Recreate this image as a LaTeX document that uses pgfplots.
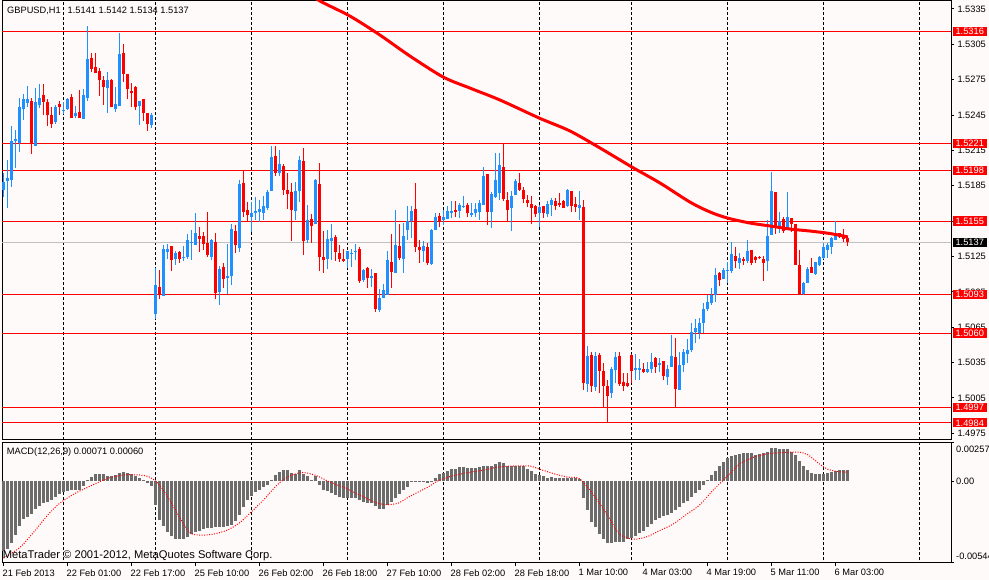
\documentclass[border=0pt]{standalone}
\usepackage{fontspec}
\setmainfont{Liberation Sans}
\usepackage{pgfplots}
\pgfplotsset{compat=1.18}
\usepackage{pgfplotstable}
\definecolor{bg}{RGB}{255,250,250}
\definecolor{bull}{RGB}{30,144,255}
\definecolor{bear}{RGB}{255,0,0}
\definecolor{histo}{RGB}{108,108,108}
\definecolor{bidline}{RGB}{192,192,192}
\newcommand\tf{\fontsize{9.3}{11}\selectfont}
\pgfplotstableread{
i o h l c u
0 1.51814 1.51958 1.51755 1.51885 1
1 1.51893 1.52069 1.51664 1.51919 1
2 1.51899 1.52360 1.51842 1.52230 1
3 1.52232 1.52323 1.52001 1.52244 1
4 1.52210 1.52592 1.52139 1.52521 1
5 1.52501 1.52629 1.52408 1.52584 1
6 1.52555 1.52696 1.52521 1.52584 1
7 1.52569 1.52592 1.52120 1.52202 0
8 1.52188 1.52680 1.52188 1.52563 1
9 1.52535 1.52713 1.52507 1.52595 1
10 1.52620 1.52713 1.52451 1.52563 0
11 1.52563 1.52586 1.52360 1.52451 0
12 1.52451 1.52521 1.52338 1.52374 0
13 1.52389 1.52535 1.52374 1.52521 1
14 1.52541 1.52569 1.52451 1.52521 0
15 1.52487 1.52558 1.52456 1.52493 1
16 1.52501 1.52597 1.52493 1.52586 1
17 1.52606 1.52626 1.52423 1.52428 0
18 1.52445 1.52527 1.52428 1.52470 1
19 1.52473 1.52663 1.52428 1.52428 0
20 1.52417 1.52669 1.52417 1.52620 1
21 1.52592 1.53205 1.52569 1.52926 1
22 1.52934 1.52976 1.52818 1.52843 0
23 1.52860 1.52979 1.52809 1.52809 0
24 1.52826 1.52847 1.52612 1.52747 0
25 1.52747 1.52781 1.52535 1.52685 0
26 1.52677 1.52818 1.52470 1.52747 1
27 1.52747 1.52756 1.52516 1.52516 0
28 1.52501 1.52685 1.52473 1.52544 1
29 1.52527 1.53149 1.52527 1.52968 1
30 1.52979 1.53053 1.52733 1.52798 0
31 1.52798 1.52798 1.52584 1.52671 0
32 1.52654 1.52719 1.52521 1.52640 0
33 1.52685 1.52696 1.52493 1.52521 0
34 1.52527 1.52572 1.52366 1.52572 1
35 1.52584 1.52589 1.52402 1.52470 0
36 1.52470 1.52470 1.52317 1.52374 0
37 1.52366 1.52465 1.52338 1.52451 1
38 1.50762 1.51150 1.50717 1.51008 1
39 1.50989 1.51136 1.50890 1.50932 0
40 1.50918 1.51348 1.50918 1.51314 1
41 1.51291 1.51356 1.51226 1.51314 1
42 1.51339 1.51339 1.51130 1.51220 0
43 1.51229 1.51299 1.51178 1.51282 1
44 1.51288 1.51299 1.51197 1.51229 0
45 1.51237 1.51339 1.51214 1.51246 1
46 1.51243 1.51441 1.51229 1.51390 1
47 1.51367 1.51475 1.51220 1.51376 1
48 1.51348 1.51622 1.51348 1.51452 1
49 1.51424 1.51498 1.51291 1.51399 0
50 1.51424 1.51460 1.51305 1.51356 0
51 1.51362 1.51630 1.51248 1.51263 0
52 1.51248 1.51396 1.51220 1.51390 1
53 1.51371 1.51447 1.50887 1.50943 0
54 1.50949 1.51172 1.50839 1.51144 1
55 1.51161 1.51197 1.50980 1.51059 0
56 1.51070 1.51356 1.50932 1.51085 1
57 1.51085 1.51526 1.51008 1.51483 1
58 1.51466 1.51517 1.51282 1.51348 0
59 1.51325 1.51899 1.51291 1.51865 1
60 1.51876 1.51984 1.51588 1.51630 0
61 1.51645 1.51715 1.51551 1.51602 0
62 1.51583 1.51715 1.51460 1.51617 1
63 1.51622 1.51752 1.51560 1.51639 1
64 1.51630 1.51729 1.51545 1.51650 1
65 1.51617 1.51763 1.51560 1.51678 1
66 1.51659 1.51814 1.51645 1.51800 1
67 1.51808 1.52188 1.51808 1.52097 1
68 1.52103 1.52188 1.51933 1.51956 0
69 1.51956 1.52154 1.51933 1.52035 1
70 1.52018 1.52035 1.51772 1.51814 0
71 1.51814 1.51956 1.51650 1.51780 0
72 1.51800 1.51871 1.51384 1.51645 0
73 1.51636 1.51885 1.51560 1.51806 1
74 1.51806 1.52103 1.51715 1.52069 1
75 1.52060 1.52168 1.51263 1.51384 0
76 1.51390 1.51687 1.51362 1.51560 1
77 1.51568 1.51611 1.51367 1.51509 0
78 1.51526 1.51907 1.51526 1.51899 1
79 1.51865 1.52041 1.51130 1.51243 0
80 1.51248 1.51469 1.51108 1.51220 0
81 1.51229 1.51475 1.51142 1.51396 1
82 1.51382 1.51523 1.51220 1.51410 1
83 1.51418 1.51433 1.51214 1.51291 0
84 1.51277 1.51348 1.51206 1.51229 0
85 1.51232 1.51311 1.51206 1.51214 0
86 1.51226 1.51299 1.51150 1.51299 1
87 1.51269 1.51314 1.51159 1.51282 1
88 1.51291 1.51356 1.51220 1.51299 1
89 1.51314 1.51328 1.51023 1.51045 0
90 1.51051 1.51142 1.51036 1.51136 1
91 1.51150 1.51164 1.50980 1.51065 0
92 1.51070 1.51142 1.50994 1.51087 1
93 1.51108 1.51108 1.50782 1.50805 0
94 1.50796 1.50972 1.50782 1.50896 1
95 1.50896 1.51017 1.50896 1.50966 1
96 1.50924 1.51299 1.50924 1.51220 1
97 1.51204 1.51441 1.50985 1.51121 0
98 1.51113 1.51645 1.51113 1.51348 1
99 1.51342 1.51526 1.51220 1.51240 0
100 1.51229 1.51532 1.51113 1.51424 1
101 1.51475 1.51678 1.51390 1.51551 1
102 1.51551 1.51678 1.51404 1.51636 1
103 1.51653 1.51876 1.51291 1.51333 0
104 1.51333 1.51390 1.51192 1.51305 0
105 1.51299 1.51384 1.51206 1.51339 1
106 1.51333 1.51362 1.51178 1.51197 0
107 1.51187 1.51481 1.51178 1.51475 1
108 1.51475 1.51617 1.51475 1.51583 1
109 1.51594 1.51617 1.51503 1.51551 0
110 1.51560 1.51645 1.51517 1.51583 1
111 1.51568 1.51678 1.51566 1.51636 1
112 1.51617 1.51721 1.51574 1.51636 1
113 1.51645 1.51721 1.51583 1.51630 0
114 1.51636 1.51701 1.51574 1.51687 1
115 1.51670 1.51763 1.51659 1.51678 1
116 1.51687 1.51701 1.51588 1.51617 0
117 1.51602 1.51701 1.51583 1.51617 1
118 1.51622 1.51701 1.51583 1.51653 1
119 1.51630 1.51729 1.51560 1.51701 1
120 1.51687 1.52012 1.51687 1.51935 1
121 1.51950 1.51950 1.51517 1.51630 0
122 1.51630 1.51800 1.51494 1.51780 1
123 1.51757 1.52126 1.51744 1.51899 1
124 1.51786 1.52126 1.51729 1.52026 1
125 1.52007 1.52210 1.51723 1.51735 0
126 1.51729 1.51800 1.51554 1.51645 0
127 1.51664 1.51806 1.51469 1.51763 1
128 1.51772 1.51907 1.51772 1.51891 1
129 1.51876 1.51956 1.51808 1.51814 0
130 1.51814 1.51842 1.51706 1.51735 0
131 1.51729 1.51772 1.51673 1.51701 0
132 1.51695 1.51763 1.51526 1.51664 0
133 1.51678 1.51687 1.51588 1.51608 0
134 1.51622 1.51687 1.51503 1.51673 1
135 1.51678 1.51678 1.51574 1.51617 0
136 1.51608 1.51724 1.51583 1.51693 1
137 1.51687 1.51744 1.51594 1.51729 1
138 1.51721 1.51744 1.51645 1.51678 0
139 1.51706 1.51791 1.51673 1.51687 0
140 1.51721 1.51729 1.51659 1.51664 0
141 1.51678 1.51820 1.51673 1.51814 1
142 1.51806 1.51806 1.51630 1.51678 0
143 1.51695 1.51757 1.51630 1.51673 0
144 1.51664 1.51806 1.51560 1.51687 1
145 1.51668 1.51729 1.50118 1.50174 0
146 1.50168 1.50491 1.50103 1.50406 1
147 1.50415 1.50443 1.50103 1.50152 0
148 1.50140 1.50443 1.50112 1.50406 1
149 1.50415 1.50429 1.50090 1.50281 0
150 1.50279 1.50344 1.49962 1.50152 0
151 1.50152 1.50203 1.49840 1.50069 0
152 1.50095 1.50310 1.50047 1.50293 1
153 1.50287 1.50437 1.50174 1.50395 1
154 1.50406 1.50443 1.50152 1.50168 0
155 1.50183 1.50264 1.50112 1.50152 0
156 1.50174 1.50264 1.50146 1.50152 0
157 1.50415 1.50423 1.50174 1.50281 0
158 1.50287 1.50423 1.50203 1.50307 1
159 1.50287 1.50378 1.50203 1.50307 1
160 1.50298 1.50344 1.50264 1.50273 0
161 1.50273 1.50358 1.50264 1.50293 1
162 1.50293 1.50434 1.50259 1.50358 1
163 1.50387 1.50395 1.50264 1.50315 0
164 1.50330 1.50387 1.50273 1.50349 1
165 1.50366 1.50366 1.50203 1.50236 0
166 1.50230 1.50330 1.50160 1.50293 1
167 1.50315 1.50584 1.50315 1.50406 1
168 1.50395 1.50556 1.49971 1.50124 0
169 1.50118 1.50443 1.50118 1.50330 1
170 1.50330 1.50463 1.50273 1.50443 1
171 1.50423 1.50548 1.50344 1.50457 1
172 1.50457 1.50683 1.50443 1.50612 1
173 1.50612 1.50717 1.50514 1.50646 1
174 1.50604 1.50726 1.50548 1.50683 1
175 1.50683 1.50858 1.50599 1.50802 1
176 1.50802 1.50924 1.50790 1.50867 1
177 1.50853 1.50980 1.50839 1.50924 1
178 1.50924 1.51150 1.50867 1.51093 1
179 1.51113 1.51121 1.51000 1.51051 0
180 1.51057 1.51150 1.51057 1.51136 1
181 1.51130 1.51206 1.51023 1.51136 1
182 1.51130 1.51376 1.51113 1.51269 1
183 1.51254 1.51328 1.51150 1.51214 0
184 1.51197 1.51277 1.51142 1.51235 1
185 1.51232 1.51243 1.51178 1.51214 0
186 1.51214 1.51390 1.51192 1.51299 1
187 1.51305 1.51305 1.51178 1.51197 0
188 1.51243 1.51254 1.51192 1.51220 0
189 1.51248 1.51254 1.51229 1.51235 0
190 1.51226 1.51254 1.51045 1.51197 0
191 1.51214 1.51560 1.51130 1.51424 1
192 1.51433 1.51969 1.51433 1.51806 1
193 1.51800 1.51800 1.51441 1.51509 0
194 1.51509 1.51630 1.51447 1.51551 1
195 1.51566 1.51588 1.51452 1.51469 0
196 1.51475 1.51800 1.51475 1.51588 1
197 1.51579 1.51579 1.51460 1.51526 0
198 1.51526 1.51526 1.51178 1.51178 0
199 1.51178 1.51305 1.50924 1.50932 0
200 1.50932 1.51034 1.50924 1.51028 1
201 1.51023 1.51164 1.51023 1.51142 1
202 1.51159 1.51235 1.51108 1.51113 0
203 1.51102 1.51206 1.51093 1.51206 1
204 1.51178 1.51254 1.51169 1.51248 1
205 1.51235 1.51362 1.51226 1.51333 1
206 1.51305 1.51362 1.51235 1.51348 1
207 1.51333 1.51418 1.51271 1.51404 1
208 1.51390 1.51551 1.51390 1.51447 1
209 1.51447 1.51447 1.51404 1.51413 0
210 1.51433 1.51481 1.51376 1.51396 0
211 1.51410 1.51420 1.51340 1.51370 0
}\candles
\pgfplotstableread{
i p
74.1 1.53528
79.1 1.53418
86.6 1.53290
94.1 1.53129
101.6 1.52951
109.9 1.52773
116.6 1.52679
124.1 1.52578
133.9 1.52425
141.6 1.52315
149.1 1.52171
157.1 1.52009
164.1 1.51874
171.6 1.51712
176.6 1.51628
180.9 1.51577
186.6 1.51534
191.6 1.51509
196.6 1.51483
201.6 1.51466
206.6 1.51445
211.1 1.51416
}\mave
\pgfplotstableread{
i m
0 -0.00466
1 -0.00454
2 -0.00409
3 -0.00357
4 -0.00295
5 -0.00250
6 -0.00239
7 -0.00216
8 -0.00186
9 -0.00164
10 -0.00148
11 -0.00136
12 -0.00125
13 -0.00102
14 -0.00086
15 -0.00073
16 -0.00064
17 -0.00057
18 -0.00057
19 -0.00057
20 -0.00034
21 0.00005
22 0.00027
23 0.00045
24 0.00045
25 0.00045
26 0.00036
27 0.00034
28 0.00041
29 0.00052
30 0.00059
31 0.00052
32 0.00045
33 0.00036
34 0.00023
35 0.00007
36 -0.00011
37 -0.00030
38 -0.00159
39 -0.00261
40 -0.00300
41 -0.00341
42 -0.00364
43 -0.00382
44 -0.00386
45 -0.00386
46 -0.00370
47 -0.00352
48 -0.00341
49 -0.00329
50 -0.00318
51 -0.00311
52 -0.00309
53 -0.00307
54 -0.00307
55 -0.00307
56 -0.00300
57 -0.00291
58 -0.00268
59 -0.00227
60 -0.00170
61 -0.00125
62 -0.00098
63 -0.00075
64 -0.00057
65 -0.00041
66 -0.00023
67 0.00011
68 0.00039
69 0.00061
70 0.00075
71 0.00073
72 0.00057
73 0.00050
74 0.00073
75 0.00050
76 0.00034
77 0.00005
78 0.00034
79 -0.00027
80 -0.00057
81 -0.00068
82 -0.00080
83 -0.00091
84 -0.00102
85 -0.00114
86 -0.00114
87 -0.00114
88 -0.00114
89 -0.00125
90 -0.00136
91 -0.00148
92 -0.00148
93 -0.00164
94 -0.00182
95 -0.00182
96 -0.00159
97 -0.00136
98 -0.00114
99 -0.00086
100 -0.00057
101 -0.00039
102 -0.00007
103 -0.00005
104 -0.00005
105 -0.00005
106 -0.00014
107 0.00001
108 0.00023
109 0.00045
110 0.00057
111 0.00068
112 0.00080
113 0.00084
114 0.00091
115 0.00091
116 0.00086
117 0.00086
118 0.00086
119 0.00091
120 0.00102
121 0.00098
122 0.00098
123 0.00114
124 0.00125
125 0.00120
126 0.00102
127 0.00102
128 0.00102
129 0.00102
130 0.00098
131 0.00084
132 0.00068
133 0.00045
134 0.00039
135 0.00034
136 0.00023
137 0.00027
138 0.00023
139 0.00023
140 0.00023
141 0.00023
142 0.00023
143 0.00018
144 0.00016
145 -0.00114
146 -0.00193
147 -0.00273
148 -0.00307
149 -0.00352
150 -0.00382
151 -0.00409
152 -0.00409
153 -0.00404
154 -0.00404
155 -0.00402
156 -0.00386
157 -0.00375
158 -0.00364
159 -0.00345
160 -0.00329
161 -0.00307
162 -0.00284
163 -0.00261
164 -0.00245
165 -0.00234
166 -0.00223
167 -0.00211
168 -0.00193
169 -0.00170
170 -0.00148
171 -0.00132
172 -0.00102
173 -0.00080
174 -0.00057
175 -0.00023
176 0.00011
177 0.00039
178 0.00068
179 0.00098
180 0.00125
181 0.00154
182 0.00166
183 0.00177
184 0.00182
185 0.00186
186 0.00186
187 0.00186
188 0.00177
189 0.00182
190 0.00189
191 0.00193
192 0.00220
193 0.00220
194 0.00216
195 0.00211
196 0.00211
197 0.00193
198 0.00177
199 0.00136
200 0.00098
201 0.00075
202 0.00057
203 0.00050
204 0.00050
205 0.00050
206 0.00052
207 0.00061
208 0.00068
209 0.00073
210 0.00073
211 0.00071
}\macd
\pgfplotstableread{
i s
0 -0.00511
4 -0.00443
7.5 -0.00341
11 -0.00227
14 -0.00148
18 -0.00080
22.5 -0.00023
26 0.00018
30 0.00041
34 0.00041
36.5 0.00027
38.5 -0.00011
41 -0.00102
44 -0.00239
46.5 -0.00341
49 -0.00359
52.5 -0.00352
56 -0.00325
59 -0.00277
61.5 -0.00216
65 -0.00125
68.5 -0.00023
71.5 0.00034
75 0.00057
78.5 0.00034
81.5 -0.00005
85 -0.00041
89 -0.00091
92.5 -0.00136
95 -0.00155
98.5 -0.00148
101.5 -0.00102
106 -0.00041
108.5 0.00000
111.5 0.00030
116 0.00057
120 0.00073
124 0.00095
131 0.00102
134 0.00080
137.5 0.00050
141 0.00027
144 0.00016
147.5 -0.00091
151 -0.00227
154 -0.00352
157.5 -0.00386
161 -0.00368
164 -0.00329
167.5 -0.00284
171 -0.00216
174 -0.00159
177.5 -0.00057
181 0.00034
184 0.00114
187.5 0.00159
191 0.00182
194 0.00189
198.5 0.00193
201 0.00177
204 0.00114
206 0.00080
208.5 0.00064
211 0.00060
}\signal
\begin{document}
\begin{tikzpicture}
\path[use as bounding box, fill=bg] (0,0) rectangle (989bp,580bp);
% ---------------- main price panel ----------------
\begin{axis}[
  at={(2bp,140bp)}, anchor=south west, scale only axis,
  width=949bp, height=439.5bp,
  xmin=-0.375, xmax=236.875, ymin=1.49693, ymax=1.53422,
  axis line style={black, line width=1bp},
  xtick=\empty,
  ytick={1.4975,1.5005,1.5035,1.5065,1.5095,1.5125,1.5155,1.5185,1.5215,1.5245,1.5275,1.5305,1.5335},
  yticklabels={1.4975,1.5005,1.5035,1.5065,1.5095,1.5125,1.5155,1.5185,1.5215,1.5245,1.5275,1.5305,1.5335},
  scaled y ticks=false,
  ytick pos=right, yticklabel pos=right, tick align=outside, major tick length=3bp,
  y tick style={black, line width=1bp},
  yticklabel style={anchor=west, inner sep=0pt, xshift=3.3bp, font=\tf},
]
\pgfplotsinvokeforeach{15,38,62,86,110,134,157,181,205,229}{
  \addplot[black, line width=1bp, dash pattern=on 3bp off 2bp, forget plot] coordinates {(#1,1.4965) (#1,1.5345)};
}
\pgfplotsinvokeforeach{1.5316,1.5221,1.5198,1.5155,1.5093,1.5060,1.4997,1.4984}{
  \addplot[bear, line width=1bp, forget plot] coordinates {(-1,#1) (238,#1)};
}
\addplot[bidline, line width=1bp, forget plot] coordinates {(-1,1.5137) (238,1.5137)};
% wicks
\addplot [bull, line width=1bp, no markers, forget plot,
  restrict expr to domain={\thisrow{u}}{0.5:1.5},
  quiver={u=0, v=\thisrow{h}-\thisrow{l}}]
  table [x=i, y=l] {\candles};
\addplot [bear, line width=1bp, no markers, forget plot,
  restrict expr to domain={\thisrow{u}}{-0.5:0.5},
  quiver={u=0, v=\thisrow{h}-\thisrow{l}}]
  table [x=i, y=l] {\candles};
% bodies
\addplot [bull, line width=3bp, no markers, forget plot,
  restrict expr to domain={\thisrow{u}}{0.5:1.5},
  quiver={u=0, v={max(abs(\thisrow{c}-\thisrow{o}),0.00009)}}]
  table [x=i, y expr={min(\thisrow{o},\thisrow{c})}] {\candles};
\addplot [bear, line width=3bp, no markers, forget plot,
  restrict expr to domain={\thisrow{u}}{-0.5:0.5},
  quiver={u=0, v={max(abs(\thisrow{c}-\thisrow{o}),0.00009)}}]
  table [x=i, y expr={min(\thisrow{o},\thisrow{c})}] {\candles};
% moving average
\addplot [bear, line width=3bp, smooth, mark=none] table [x=i, y=p] {\mave};
\node[anchor=west, inner sep=0pt, font=\tf, xshift=5bp, yshift=-10.5bp] at (rel axis cs:0,1)
  {GBPUSD,H1\hspace{7bp}1.5141 1.5142 1.5134 1.5137};
\end{axis}
% ---------------- level labels overlay ----------------
\begin{axis}[
  at={(2bp,140bp)}, anchor=south west, scale only axis,
  width=949bp, height=439.5bp,
  xmin=-0.375, xmax=236.875, ymin=1.49693, ymax=1.53422,
  axis line style={draw=none},
  xtick=\empty, scaled y ticks=false,
  ytick={1.4984,1.4997,1.5060,1.5093,1.5155,1.5198,1.5221,1.5316},
  yticklabels={1.4984,1.4997,1.5060,1.5093,1.5155,1.5198,1.5221,1.5316},
  extra y ticks={1.5137}, extra y tick labels={1.5137},
  extra y tick style={yticklabel style={fill=black}},
  ytick pos=right, yticklabel pos=right, major tick length=0pt,
  yticklabel style={anchor=west, fill=bear, text=white, inner xsep=0pt, inner ysep=1.3bp,
     minimum width=34.5bp, text height=6.7bp, text depth=0pt, xshift=1.3bp, font=\tf},
]
\addplot[draw=none, forget plot] coordinates {(0,1.51) (1,1.51)};
\end{axis}
% ---------------- MACD panel ----------------
\begin{axis}[
  at={(2bp,17bp)}, anchor=south west, scale only axis,
  width=949bp, height=120.5bp,
  xmin=-0.375, xmax=236.875, ymin=-0.00544, ymax=0.00257,
  axis line style={black, line width=1bp},
  xtick={0,16,32,48,64,80,96,112,128,144,160,176,192,208},
  xticklabels={21 Feb 2013,22 Feb 01:00,22 Feb 17:00,25 Feb 10:00,26 Feb 02:00,26 Feb 18:00,27 Feb 10:00,28 Feb 02:00,28 Feb 18:00,1 Mar 10:00,4 Mar 03:00,4 Mar 19:00,5 Mar 11:00,6 Mar 03:00},
  xtick pos=bottom, tick align=outside, major tick length=3bp,
  tick style={black, line width=1bp},
  xticklabel style={anchor=north west, inner sep=0pt, xshift=-1bp, yshift=-3.3bp, font=\tf},
  ytick={-0.00544,0,0.00257},
  yticklabels={{\raisebox{3.7bp}[0pt][0pt]{-0.00544}},{\raisebox{-3.3bp}[0pt][0pt]{0.00}},{\raisebox{-10.3bp}[0pt][0pt]{0.00257}}},
  scaled y ticks=false,
  ytick pos=right, yticklabel pos=right,
  yticklabel style={anchor=west, inner sep=0pt, xshift=2bp, font=\tf},
]
\pgfplotsinvokeforeach{15,38,62,86,110,134,157,181,205,229}{
  \addplot[black, line width=1bp, dash pattern=on 3bp off 2bp, forget plot] coordinates {(#1,-0.0056) (#1,0.0027)};
}
\addplot [ycomb, draw=histo, line width=2.8bp, mark=none] table [x=i, y=m] {\macd};
\addplot [draw=bear, line width=1bp, dash pattern=on 1bp off 1.5bp, smooth, mark=none] table [x=i, y=s] {\signal};
\node[anchor=west, inner sep=0pt, font=\tf, xshift=4.7bp, yshift=-10bp] at (rel axis cs:0,1)
  {MACD(12,26,9) 0.00071 0.00060};
\node[anchor=base west, inner sep=0pt, font=\fontsize{11.2}{13}\selectfont, xshift=0.7bp, yshift=4bp] at (rel axis cs:0,0)
  {MetaTrader \textcopyright\ 2001-2012, MetaQuotes Software Corp.};
\end{axis}
\end{tikzpicture}
\end{document}
